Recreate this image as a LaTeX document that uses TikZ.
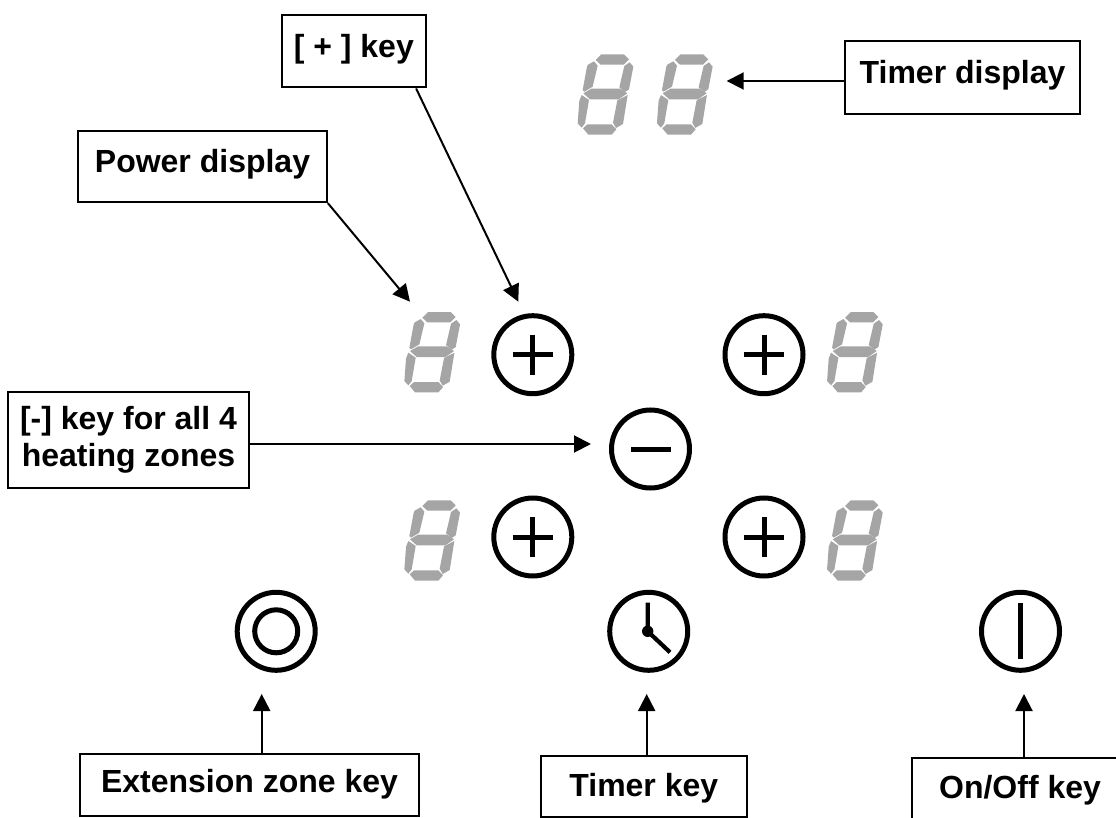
\documentclass[tikz,border=0pt]{standalone}
\usepackage{fontspec}
\setmainfont{Liberation Sans}
\usetikzlibrary{arrows.meta}
\definecolor{seggray}{RGB}{165,165,165}
\tikzset{
  x=1pt,y=-1pt,
  lbl/.style={draw=black,line width=2.3pt,fill=white,inner sep=0pt,align=center,anchor=base,
    font=\fontsize{32}{37.6}\selectfont\bfseries},
  conn/.style={draw=black,line width=2pt,-{Triangle[length=17pt,width=17pt]}},
  keyring/.style={draw=black,line width=5pt,fill=white},
  keybar/.style={draw=black,line width=5pt},
  digit/.pic={
    \begin{scope}[scale=1/3]
    \fill[seggray] (197,90)--(214,73)--(282,73)--(297,88)--(281,104)--(212,104)--cycle;
    \fill[seggray] (174,104)--(192,94)--(203,107)--(188,170)--(163,185)--(158,180)--(171,110)--cycle;
    \fill[seggray] (299,97)--(310,110)--(297,178)--(285,186)--(268,172)--(283,108)--cycle;
    \fill[seggray] (160,190)--(184,176)--(271,176)--(292,190)--(266,208)--(180,208)--cycle;
    \fill[seggray] (155,195)--(177,210)--(165,280)--(155,293)--(143,280)--(148,212)--cycle;
    \fill[seggray] (293,195)--(279,282)--(258,294)--(249,278)--(262,211)--cycle;
    \fill[seggray] (159,295)--(172,283)--(245,283)--(259,298)--(245,314)--(175,314)--cycle;
    \end{scope}
  },
  pluskey/.pic={
    \draw[keyring] (0,0) circle[radius=39];
    \draw[keybar] (-20.3,0)--(20.3,0);
    \draw[keybar] (0,-20)--(0,20);
  },
}
\begin{document}
\begin{tikzpicture}
\clip (0,0) rectangle (1116,818);
\useasboundingbox (0,0) rectangle (1116,818);
\fill[white] (0,0) rectangle (1116,818);

% displays
\pic at (530,30) {digit};
\pic at (609.3,30) {digit};
\pic at (356.7,287.7) {digit};
\pic at (779.4,287.7) {digit};
\pic at (356.7,476) {digit};
\pic at (779.4,476) {digit};

% keys
\pic at (532.8,354.7) {pluskey};
\pic at (764,354.7) {pluskey};
\pic at (532.8,537) {pluskey};
\pic at (764,537) {pluskey};

\draw[keyring] (650.5,449) circle[radius=39];
\draw[keybar] (631,449)--(671,449);

\draw[keyring] (276.2,631.3) circle[radius=39];
\draw[keyring] (276.2,631.3) circle[radius=21.5];

\draw[keyring] (648.7,631.3) circle[radius=39];
\fill (647.7,631.3) circle[radius=5.7];
\draw[keybar,line width=4.2pt] (647.7,602.7)--(647.7,631.3)--(670,652.3);

\draw[keyring] (1020.5,631.3) circle[radius=39];
\draw[keybar] (1020.7,603.3)--(1020.7,659.3);

% labels
\node[lbl,minimum width=144.3pt,text height=42.6pt,text depth=30pt] (pluslbl) at (353.8,57.3) {[ + ] key};
\node[lbl,minimum width=248.4pt,text height=41.3pt,text depth=29.7pt] (powerlbl) at (202.5,172.3) {Power display};
\node[lbl,minimum width=235pt,text height=42.3pt,text depth=30.7pt] (timerlbl) at (962.5,83.3) {Timer display};
\node[lbl,minimum width=241pt,minimum height=96pt,anchor=center] (minuslbl) at (128.5,439.7) {[-] key for all 4\\heating zones};
\node[lbl,minimum width=339pt,text height=38.7pt,text depth=23.3pt] (extlbl) at (249.5,792.7) {Extension zone key};
\node[lbl,minimum width=205.7pt,text height=41pt,text depth=20.3pt] (timerkeylbl) at (643.8,796.7) {Timer key};
\node[lbl,minimum width=215.4pt,text height=40.3pt,text depth=30pt] (onofflbl) at (1020,798) {On/Off key};

% free ends of the connectors
\coordinate (tipTimer) at (726.7,81);
\coordinate (tipMinus) at (591,444);
\coordinate (tipPlus) at (518.3,301.7);
\coordinate (tipPower) at (410,301.7);
\coordinate (tipExt) at (261.7,694);
\coordinate (tipClock) at (646.7,694);
\coordinate (tipOnOff) at (1024,694);

% connectors
\draw[conn] (timerlbl.west |- tipTimer) -- (tipTimer);
\draw[conn] (minuslbl.east |- tipMinus) -- (tipMinus);
\draw[conn] ([xshift=-11pt]pluslbl.south east) -- (tipPlus);
\draw[conn] (powerlbl.south east) -- (tipPower);
\draw[conn] (extlbl.north -| tipExt) -- (tipExt);
\draw[conn] (timerkeylbl.north -| tipClock) -- (tipClock);
\draw[conn] (onofflbl.north -| tipOnOff) -- (tipOnOff);
\end{tikzpicture}
\end{document}
